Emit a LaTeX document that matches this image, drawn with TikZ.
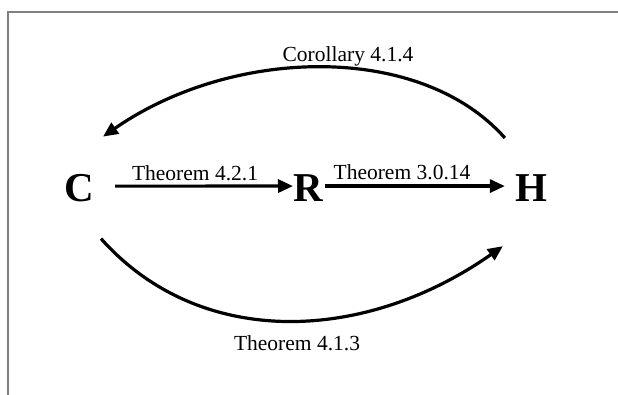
\documentclass[tikz,border=0pt]{standalone}
\usepackage{fontspec}
\setmainfont{Liberation Serif}
\usetikzlibrary{arrows.meta}
\begin{document}
\begin{tikzpicture}[x=1pt,y=-1pt,
  big/.style={inner sep=0pt,font=\fontsize{41}{41}\selectfont\bfseries,anchor=base},
  lbl/.style={inner sep=0pt,font=\fontsize{21.5}{23}\selectfont,anchor=base},
  arr/.style={line width=3.2pt,-{Triangle[length=15pt,width=13pt]}},
  frame/.style={draw=black!50,line width=2pt}]
\useasboundingbox (0,0) rectangle (618,395);
\draw[frame] (618,12) -- (8,12) -- (8,395);
\node[big] (C) at (79,202) {C};
\node[big] (R) at (308,202) {R};
\node[big] (H) at (531,202) {H};
\node[lbl] (t421) at (195,181) {Theorem 4.2.1};
\node[lbl] (t3014) at (402,180) {Theorem 3.0.14};
\node[lbl] (c414) at (348,62) {Corollary 4.1.4};
\node[lbl] (t413) at (297,350) {Theorem 4.1.3};
\draw[arr] ([shift={(21,-2.5)}]C.east) -- ([shift={(0,-2.5)}]R.west);
\draw[arr] ([shift={(2,-2.5)}]R.east) -- ([shift={(-10,-2.5)}]H.west);
\draw[arr] ([shift={(-10,-37)}]H.north west) .. controls (420,42) and (232,47) .. ([shift={(9,-38)}]C.north east);
\draw[arr] ([shift={(7,36)}]C.south east) .. controls (200,350) and (365,343) .. ([shift={(-12,44)}]H.south west);
\end{tikzpicture}
\end{document}
